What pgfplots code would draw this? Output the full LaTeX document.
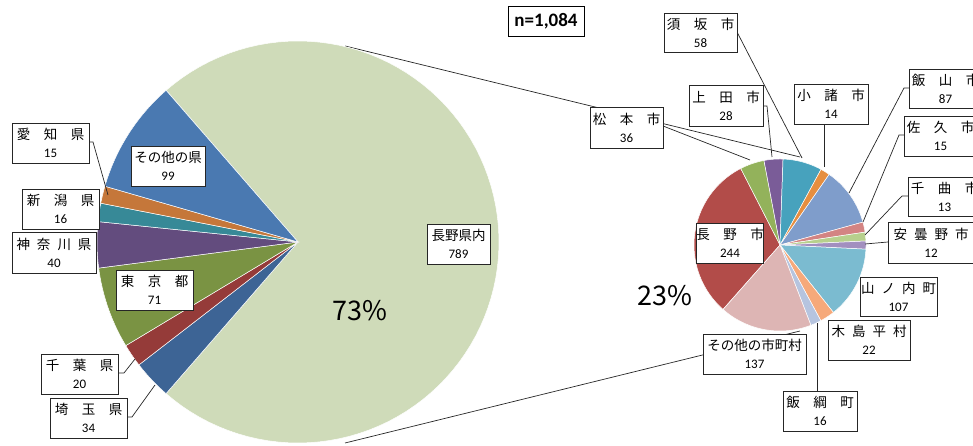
\documentclass[border=0pt]{standalone}
\usepackage{fontspec}
\setmainfont{Noto Sans CJK JP}
\newfontfamily\carlito{Carlito}
\usepackage{pgfplots}
\usepackage{pgfplotstable}
\pgfplotsset{compat=1.18}

% left pie colours
\definecolor{LNag}{HTML}{CFDBB9}
\definecolor{LSai}{HTML}{3D6495}
\definecolor{LChi}{HTML}{953B39}
\definecolor{LTok}{HTML}{7A9343}
\definecolor{LKan}{HTML}{634C7E}
\definecolor{LNii}{HTML}{378997}
\definecolor{LAic}{HTML}{C5773A}
\definecolor{LOth}{HTML}{4A79B1}
% right pie colours
\definecolor{RA}{HTML}{B24C49}
\definecolor{RB}{HTML}{93B25B}
\definecolor{RC}{HTML}{7A5C98}
\definecolor{RD}{HTML}{47A2BD}
\definecolor{RE}{HTML}{E68E3F}
\definecolor{RF}{HTML}{7F9DCB}
\definecolor{RG}{HTML}{D38483}
\definecolor{RH}{HTML}{B7D08D}
\definecolor{RI}{HTML}{A28FBF}
\definecolor{RJ}{HTML}{7BBBD0}
\definecolor{RK}{HTML}{F6A97A}
\definecolor{RL}{HTML}{B6C4DF}
\definecolor{RM}{HTML}{DDB5B4}

% prefecture of residence (n = 1,084), clockwise
\pgfplotstableread{
value col
789 LNag
34 LSai
20 LChi
71 LTok
40 LKan
16 LNii
15 LAic
99 LOth
}\lefttbl

% breakdown of Nagano prefecture (789), clockwise
\pgfplotstableread{
value col
244 RA
36 RB
28 RC
58 RD
14 RE
87 RF
15 RG
13 RH
12 RI
107 RJ
22 RK
16 RL
137 RM
}\righttbl

% #1 table, #2 cx, #3 cy, #4 r, #5 start angle
\newcommand\drawpie[5]{%
  \pgfplotstablegetrowsof{#1}%
  \pgfmathtruncatemacro\lastrow{\pgfplotsretval-1}%
  \def\pietot{0}%
  \pgfplotsforeachungrouped \i in {0,...,\lastrow}{%
    \pgfplotstablegetelem{\i}{value}\of{#1}%
    \pgfmathsetmacro\pietot{\pietot+\pgfplotsretval}%
  }%
  \pgfmathsetmacro\piecur{#5}%
  \pgfplotsforeachungrouped \i in {0,...,\lastrow}{%
    \pgfplotstablegetelem{\i}{value}\of{#1}%
    \pgfmathsetmacro\pienext{\piecur-360*(\pgfplotsretval/\pietot)}%
    \pgfplotstablegetelem{\i}{col}\of{#1}%
    \edef\piecol{\pgfplotsretval}%
    \edef\doslice{\noexpand\addplot[fill=\piecol, draw=white, line width=0.5pt,
      domain=\pienext:\piecur, samples=90, variable=\noexpand\t]
      ({#2+#4*cos(\noexpand\t)},{#3+#4*sin(\noexpand\t)}) -- (axis cs:#2,#3) -- cycle;}%
    \doslice
    \let\piecur\pienext
  }%
}

\newcommand\gA{\hspace{13.5pt}}
\newcommand\gB{\hspace{7pt}}
\newcommand\num[1]{{\carlito\fontsize{13}{18}\selectfont #1}}

\tikzset{lbl/.style={draw=black!85, line width=0.8pt, fill=white, align=center,
    inner sep=0pt, font=\fontsize{13.5}{18}\selectfont}}
\pgfplotsset{ldr/.style={black!85, line width=0.7pt, no marks}}

\begin{document}
\begin{tikzpicture}
\useasboundingbox (0,0) rectangle (973pt,446pt);
\clip (0,0) rectangle (973pt,446pt);
\begin{axis}[at={(0,0)}, anchor=south west,
  width=973pt, height=446pt, scale only axis,
  xmin=0, xmax=973, ymin=0, ymax=446,
  hide axis, clip=false,
]
% connector lines
\addplot[ldr] coordinates {(345,400) (800,289)};
\addplot[ldr] coordinates {(345,3) (800,115)};

\drawpie{\lefttbl}{298}{204}{201}{131}
\drawpie{\righttbl}{780}{201}{86}{228.5}

% leader lines
\addplot[ldr] coordinates {(89,304) (93,304) (108,251)};
\addplot[ldr] coordinates {(118,73) (124,73) (135,87)};
\addplot[ldr] coordinates {(127,29) (132,29) (155,61)};
\addplot[ldr] coordinates {(663,320) (750,286)};
\addplot[ldr] coordinates {(737,414) (802,288)};
\addplot[ldr] coordinates {(763,340) (767,340) (772,289)};
\addplot[ldr] coordinates {(824,322) (824,279)};
\addplot[ldr] coordinates {(909,358) (904,358) (849,253)};
\addplot[ldr] coordinates {(904,311) (899,311) (863,224)};
\addplot[ldr] coordinates {(908,250) (902,250) (865,211)};
\addplot[ldr] coordinates {(888,204) (865,202)};
\addplot[ldr] coordinates {(817,55) (817,123)};

% left labels
\node[lbl, minimum width=77pt, minimum height=40pt] at (axis cs:50.5,303) {愛\gA 知\gA 県\\\num{15}};
\node[lbl, minimum width=77pt, minimum height=40pt] at (axis cs:60.5,237) {新\gA 潟\gA 県\\\num{16}};
\node[lbl, minimum width=84pt, minimum height=41pt] at (axis cs:54,193.5) {神\gB 奈\gB 川\gB 県\\\num{40}};
\node[lbl, minimum width=74pt, minimum height=40pt] at (axis cs:168,280) {その他の県\\\num{99}};
\node[lbl, minimum width=77pt, minimum height=40pt] at (axis cs:154.5,156) {東\gA 京\gA 都\\\num{71}};
\node[lbl, minimum width=77pt, minimum height=40pt] at (axis cs:79.5,72) {千\gA 葉\gA 県\\\num{20}};
\node[lbl, minimum width=77pt, minimum height=40pt] at (axis cs:88.5,28) {埼\gA 玉\gA 県\\\num{34}};
\node[lbl, minimum width=63pt, minimum height=40pt] at (axis cs:458.5,202) {長野県内\\\num{789}};
\node[font=\fontsize{27}{30}\selectfont] at (axis cs:360,135) {73\%};

% right labels
\node[lbl, minimum width=73pt, minimum height=41pt] at (axis cs:626.5,318.5) {松\gA 本\gA 市\\\num{36}};
\node[lbl, minimum width=73pt, minimum height=39pt] at (axis cs:700.5,413.5) {須\gA 坂\gA 市\\\num{58}};
\node[lbl, minimum width=74pt, minimum height=41pt] at (axis cs:726,340.5) {上\gA 田\gA 市\\\num{28}};
\node[lbl, minimum width=74pt, minimum height=40pt] at (axis cs:831,342) {小\gA 諸\gA 市\\\num{14}};
\node[lbl, minimum width=73pt, minimum height=39pt] at (axis cs:945.5,357.5) {飯\gA 山\gA 市\\\num{87}};
\node[lbl, minimum width=73pt, minimum height=40pt] at (axis cs:940.5,310) {佐\gA 久\gA 市\\\num{15}};
\node[lbl, minimum width=73pt, minimum height=39pt] at (axis cs:944.5,249.5) {千\gA 曲\gA 市\\\num{13}};
\node[lbl, minimum width=86pt, minimum height=41pt] at (axis cs:931,203.5) {安\gB 曇\gB 野\gB 市\\\num{12}};
\node[lbl, minimum width=66pt, minimum height=40pt] at (axis cs:730,203) {長\gA 野\gA 市\\\num{244}};
\node[lbl, minimum width=77pt, minimum height=39pt] at (axis cs:898.5,149.5) {山\gB ノ\gB 内\gB 町\\\num{107}};
\node[lbl, minimum width=82pt, minimum height=40pt] at (axis cs:869,106) {木\gB 島\gB 平\gB 村\\\num{22}};
\node[lbl, minimum width=74pt, minimum height=40pt] at (axis cs:820,35) {飯\gA 綱\gA 町\\\num{16}};
\node[lbl, minimum width=103pt, minimum height=40pt] at (axis cs:754.5,92) {その他の市町村\\\num{137}};
\node[font=\fontsize{27}{30}\selectfont] at (axis cs:664.5,150) {23\%};

\node[draw=black, line width=0.9pt, fill=white, inner sep=0pt, minimum width=76pt, minimum height=30pt,
  font=\carlito\bfseries\fontsize{19}{22}\selectfont] at (axis cs:546,425) {n=1,084};
\end{axis}
\end{tikzpicture}
\end{document}
